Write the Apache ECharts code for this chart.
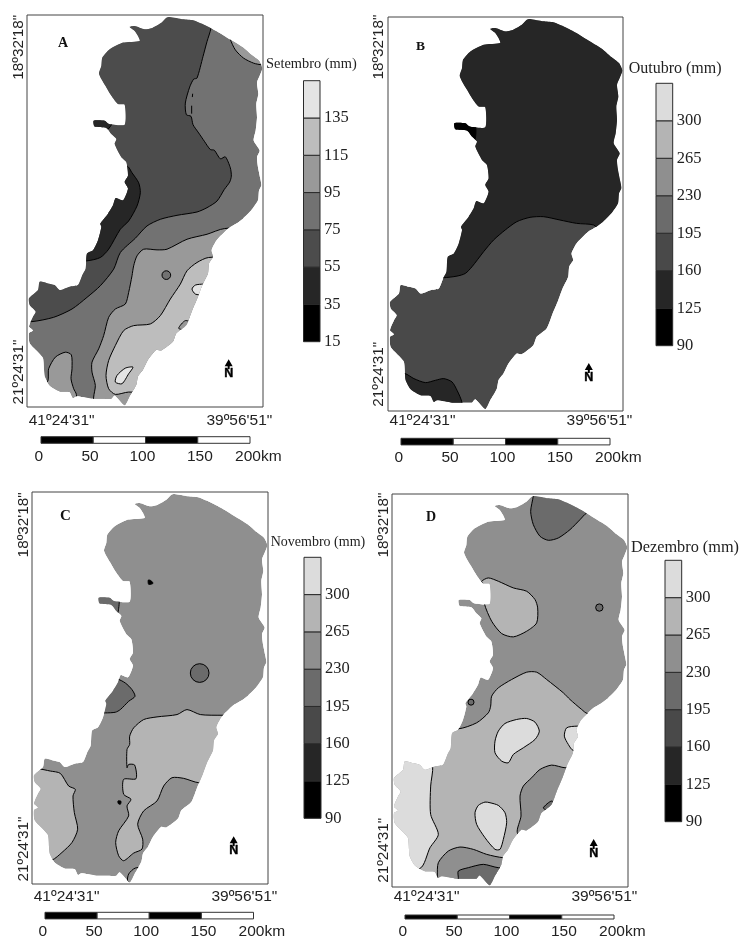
<!DOCTYPE html>
<html><head><meta charset="utf-8">
<style>html,body{margin:0;padding:0;background:#fff}#c{width:739px;height:940px}</style>
<script src="https://cdn.jsdelivr.net/npm/echarts@6/dist/echarts.min.js"></script>
</head><body><div id="c"></div>
<script>
// shade classes, darkest to lightest
const shadesA=['#000000','#262626','#4c4c4c','#727272','#999999','#bdbdbd','#e4e4e4'];
const shadesB=['#000000','#262626','#494949','#6b6b6b','#8f8f8f','#b4b4b4','#dcdcdc'];
const breaksA=[15,35,55,75,95,115,135,155];
const breaksB=[90,125,160,195,230,265,300,335];
const titles=['Setembro (mm)','Outubro (mm)','Novembro (mm)','Dezembro (mm)'];
const letters=['A','B','C','D'];
const lonLabels=['41º24\'31"','39º56\'51"'];
const latLabels=['18º32\'18"','21º24\'31"'];
const scaleEdges=[0,50,100,150,200];
const scaleTexts=['0','50','100','150','200km'];
const scaleTextAt=[-2,47,97,152,208];
const northAt=[605,1066];
const toFrame=(pts,x0,y0)=>pts.map(([x,y])=>[x-x0,y-y0]);

// state outline (map units, a third of a pixel)
const outline=toFrame([[480,58],[520,65],[550,68],[585,82],[620,100],[660,125],[700,150],[725,172],[748,190],[758,212],[750,235],[742,255],[746,290],[740,320],[742,360],[738,400],[732,430],[750,460],[742,480],[745,510],[752,545],[755,565],[748,580],[745,610],[725,640],[700,665],[680,680],[655,695],[620,730],[605,760],[610,780],[598,800],[595,830],[578,865],[565,900],[548,940],[530,985],[500,1010],[490,1035],[455,1062],[440,1060],[415,1090],[400,1120],[385,1140],[380,1165],[360,1200],[345,1227],[315,1197],[305,1207],[275,1207],[245,1207],[200,1200],[190,1205],[180,1187],[150,1185],[120,1167],[105,1140],[103,1120],[100,1085],[88,1070],[60,1040],[58,1010],[70,1002],[58,990],[70,960],[78,945],[60,925],[58,905],[85,880],[90,855],[115,860],[135,865],[150,880],[180,870],[205,865],[218,835],[228,815],[232,770],[250,760],[265,730],[275,690],[272,680],[295,650],[310,625],[318,603],[340,610],[355,575],[345,555],[355,535],[350,495],[335,480],[315,440],[320,425],[305,410],[290,392],[255,388],[252,370],[285,370],[298,380],[345,382],[345,322],[325,320],[305,295],[290,270],[275,245],[268,228],[275,205],[278,180],[300,155],[340,135],[390,130],[385,115],[375,100],[360,88],[375,85],[405,95],[425,92],[455,75],[470,60]],52,52);

// Panel A: September
const zonesA=[
 {c:2,p:[[640,20],[632,85],[620,125],[608,170],[590,235],[580,238],[568,262],[555,310],[558,345],[572,350],[578,375],[595,400],[612,425],[630,450],[642,452],[660,478],[675,472],[690,505],[693,530],[688,548],[672,570],[650,605],[620,625],[590,638],[530,648],[480,660],[440,680],[405,717],[360,760],[340,810],[300,860],[260,895],[215,930],[160,955],[95,968],[20,968],[20,20]]},
 {c:4,p:[[690,100],[690,118],[705,150],[730,175],[760,190],[785,195],[830,195],[830,100]]},
 {c:1,p:[[200,340],[335,365],[318,392],[200,400]]},
 {c:1,p:[[380,500],[395,520],[415,550],[420,580],[410,620],[385,665],[360,690],[325,750],[300,775],[260,785],[200,785],[200,500]]},
 {c:4,p:[[672,688],[620,705],[560,720],[500,750],[470,752],[430,750],[410,770],[400,800],[395,830],[385,880],[375,915],[345,930],[325,955],[310,1010],[295,1050],[275,1090],[275,1120],[285,1160],[280,1195],[280,1260],[830,1260],[830,688]]},
 {c:5,p:[[625,775],[590,790],[560,815],[540,855],[510,900],[480,950],[450,975],[400,980],[370,995],[345,1040],[325,1085],[317,1130],[325,1170],[345,1187],[385,1180],[830,1180],[830,775]]},
 {c:4,p:[[535,988],[555,965],[580,975],[555,992]]},
 {c:6,p:[[610,855],[585,858],[575,870],[585,885],[610,888],[650,888],[650,855]]},
 {c:6,p:[[398,1105],[375,1108],[350,1130],[345,1150],[365,1155],[385,1125]]},
 {c:4,p:[[140,1150],[145,1110],[165,1075],[195,1060],[213,1068],[215,1110],[212,1140],[220,1170],[228,1187],[228,1260],[60,1260],[60,1160]]}
];
const spotsA=[{c:3,x:498,y:828,r:13}];
const strokesA=[[[577,282],[576,292]],[[574,318],[574,342]]];

// Panel B: October
const zonesB=[
 {c:1,p:[[695,695],[672,675],[620,670],[570,660],[520,650],[480,652],[440,665],[405,690],[370,720],[340,755],[305,800],[285,820],[260,828],[218,833],[150,833],[150,20],[830,20],[830,695]]},
 {c:0,p:[[240,360],[290,365],[315,375],[312,424],[280,405],[240,400]]},
 {c:1,p:[[103,1120],[130,1135],[165,1147],[195,1140],[220,1135],[245,1145],[260,1170],[275,1207],[275,1260],[40,1260],[40,1120]]}
];
const spotsB=[];
const strokesB=[];

// Panel C: November
const zonesC=[
 {c:3,p:[[260,320],[357,320],[357,362],[355,385],[350,402],[260,410]]},
 {c:0,p:[[444,300],[452,302],[458,310],[445,313]]},
 {c:3,p:[[350,598],[375,610],[395,630],[404,650],[385,665],[360,690],[345,698],[315,700],[250,700],[250,598]]},
 {c:5,p:[[665,707],[600,705],[560,690],[530,705],[470,712],[430,720],[400,745],[388,770],[388,795],[380,810],[380,865],[385,855],[403,857],[407,898],[370,900],[370,945],[392,960],[380,980],[385,1010],[355,1055],[346,1090],[355,1130],[370,1145],[400,1122],[425,1110],[427,1080],[412,1035],[430,995],[470,965],[490,920],[515,895],[550,897],[595,910],[830,910],[830,707]]},
 {c:5,p:[[112,868],[150,875],[180,882],[205,920],[225,930],[218,950],[222,1000],[232,1050],[215,1090],[185,1120],[155,1143],[40,1170],[40,868]]},
 {c:4,p:[[383,1208],[385,1185],[405,1167],[450,1167],[450,1240]]},
 {c:0,p:[[353,965],[362,966],[360,975],[354,973]]}
];
const spotsC=[{c:3,x:598,y:580,r:28}];
const strokesC=[];

// Panel D: December
const zonesD=[
 {c:3,p:[[490,20],[490,48],[482,95],[490,135],[510,170],[535,182],[565,175],[600,150],[630,120],[650,100],[700,80],[700,20]]},
 {c:5,p:[[335,305],[355,295],[385,305],[430,325],[470,335],[495,360],[503,385],[500,430],[470,455],[430,472],[395,462],[365,425],[343,372],[345,345],[340,315]]},
 {c:5,p:[[265,748],[320,730],[355,700],[362,680],[365,650],[385,625],[425,600],[470,578],[500,578],[530,600],[580,640],[600,660],[635,690],[652,702],[830,720],[830,1260],[40,1260],[40,748]]},
 {c:6,p:[[188,860],[170,830],[20,830],[20,1167],[150,1167],[180,1105],[205,1065],[182,1005],[182,920]]},
 {c:4,p:[[585,865],[545,857],[510,870],[485,895],[460,920],[450,950],[453,1010],[442,1060],[480,1100],[720,1000],[720,865]]},
 {c:3,p:[[520,985],[545,965],[565,985],[530,992]]},
 {c:6,p:[[622,740],[590,745],[583,770],[595,795],[610,813],[700,813],[700,740]]},
 {c:6,p:[[470,717],[440,720],[405,732],[385,755],[375,785],[375,820],[395,845],[415,850],[430,825],[460,805],[495,780],[508,755],[495,728]]},
 {c:6,p:[[360,970],[345,968],[325,978],[315,1000],[320,1035],[345,1075],[375,1110],[390,1110],[400,1080],[410,1030],[405,1000],[385,978]]},
 {c:4,p:[[202,1190],[205,1150],[235,1115],[270,1103],[310,1110],[350,1125],[400,1135],[500,1135],[500,1260],[202,1260]]},
 {c:3,p:[[385,1165],[340,1155],[295,1165],[265,1175],[265,1195],[265,1260],[470,1260],[470,1165]]}
];
const spotsD=[{c:3,x:688,y:384,r:11},{c:3,x:303,y:668,r:9}];
const strokesD=[];

const panels=[
 {zones:zonesA,spots:spotsA,strokes:strokesA,origin:[80,45],base:3,shades:shadesA,breaks:breaksA,
  frame:[27,15,236,392],lon:[104,637],lat:[97,1075],latM:1,lonM:6,legend:[303.5,80.7,16.5,261],titleAt:[266,57],titleSize:14.4,letterAt:[58,36],letterSize:14,scale:[41,436.7,209,6.6]},
 {zones:zonesB,spots:spotsB,strokes:strokesB,origin:[52,52],base:2,shades:shadesB,breaks:breaksB,
  frame:[388,17,235,394],lon:[104,637],lat:[90,1070],latM:2,lonM:2,legend:[656,83.3,16.7,262.4],titleAt:[628.7,61],titleSize:16,letterAt:[416,40],letterSize:13.5,scale:[401,438.3,209,6.6]},
 {zones:zonesC,spots:spotsC,strokes:strokesC,origin:[95,35],base:4,shades:shadesB,breaks:breaksB,
  frame:[32,492,236,392],lon:[104,637],lat:[99,1075],latM:1,lonM:5,legend:[304,557.3,17,261],titleAt:[270.7,535],titleSize:14,letterAt:[60,509],letterSize:15,scale:[45,912.3,208.5,6.6]},
 {zones:zonesD,spots:spotsD,strokes:strokesD,origin:[66,43],base:4,shades:shadesB,breaks:breaksB,
  frame:[392,494,236,393],lon:[104,637],lat:[93,1070],latM:1,lonM:2,legend:[665,560.3,16.7,261.4],titleAt:[631,540],titleSize:16.3,letterAt:[426,510],letterSize:14,scale:[405,915,209,6.6]}
];

const SERIF='"Liberation Serif",serif', SANS='"Liberation Sans",sans-serif';
const grid=[],xAxis=[],yAxis=[],series=[],title=[];
const hidden={axisLine:{show:false},axisTick:{show:false},splitLine:{show:false}};

panels.forEach((pn,i)=>{
  const [ox,oy]=pn.origin;
  const zones=pn.zones.map(z=>({c:z.c,p:toFrame(z.p,ox,oy)}));
  const spots=pn.spots.map(s=>({c:s.c,r:s.r,at:[s.x-ox,s.y-oy]}));
  const strokes=pn.strokes.map(l=>toFrame(l,ox,oy));
  // map frame
  let g=grid.length;
  grid.push({left:pn.frame[0],top:pn.frame[1],width:pn.frame[2],height:pn.frame[3],show:true,borderColor:'#444',borderWidth:1,backgroundColor:'#fff',containLabel:false});
  xAxis.push({gridIndex:g,type:'value',min:0,max:708,...hidden,
    axisLabel:{show:true,customValues:pn.lon,margin:pn.lonM,hideOverlap:false,color:'#222',fontFamily:SANS,fontSize:15.5,
      formatter:v=>lonLabels[pn.lon.indexOf(v)]}});
  yAxis.push({gridIndex:g,type:'value',inverse:true,min:0,max:1180,...hidden,
    axisLabel:{show:true,customValues:pn.lat,rotate:90,margin:pn.latM,hideOverlap:false,color:'#222',fontFamily:SANS,fontSize:15.3,
      formatter:v=>latLabels[pn.lat.indexOf(v)]}});
  series.push({type:'custom',xAxisIndex:g,yAxisIndex:g,silent:true,animation:false,data:[[0,0]],
    renderItem:(params,api)=>{
      const P=pts=>pts.map(p=>api.coord(p));
      const ring=P(outline);
      const unit=api.size([1,1])[0];
      const kids=[{type:'polygon',shape:{points:ring,smooth:0.2},style:{fill:pn.shades[pn.base],stroke:null}}];
      zones.forEach(z=>kids.push({type:'polygon',shape:{points:P(z.p),smooth:0.25},style:{fill:pn.shades[z.c],stroke:'#000',lineWidth:1}}));
      strokes.forEach(l=>kids.push({type:'polyline',shape:{points:P(l)},style:{fill:null,stroke:'#000',lineWidth:1}}));
      spots.forEach(s=>{const c=api.coord(s.at);kids.push({type:'circle',shape:{cx:c[0],cy:c[1],r:s.r*unit},style:{fill:pn.shades[s.c],stroke:'#000',lineWidth:1}});});
      const n=api.coord(northAt);
      return {type:'group',children:[
        {type:'group',clipPath:{type:'polygon',shape:{points:ring,smooth:0.2}},children:kids},
        {type:'polygon',shape:{points:[[n[0],n[1]-10],[n[0]-4,n[1]-3],[n[0]-1,n[1]-3],[n[0]-1,n[1]],[n[0]+1,n[1]],[n[0]+1,n[1]-3],[n[0]+4,n[1]-3]]},style:{fill:'#000'}},
        {type:'text',x:n[0],y:n[1]+4.5,style:{text:'N',fill:'#000',font:'bold 12.5px '+SANS,textAlign:'center',textVerticalAlign:'middle',stroke:'#000',lineWidth:0.4}}
      ]};
    }});
  // legend colour bar
  g=grid.length;
  const L=pn.legend, brk=pn.breaks, shades=pn.shades;
  grid.push({left:L[0],top:L[1],width:L[2],height:L[3]});
  xAxis.push({gridIndex:g,type:'value',min:0,max:1,...hidden,axisLabel:{show:false}});
  yAxis.push({gridIndex:g,type:'value',position:'right',min:brk[0],max:brk[brk.length-1],...hidden,
    axisLabel:{show:true,customValues:brk.slice(0,-1),margin:4,hideOverlap:false,color:'#222',fontFamily:SERIF,fontSize:16.5}});
  series.push({type:'custom',xAxisIndex:g,yAxisIndex:g,silent:true,animation:false,
    data:shades.map((s,k)=>[0,brk[k],1,brk[k+1],k]),
    encode:{x:[0,2],y:[1,3]},
    renderItem:(params,api)=>{
      const a=api.coord([api.value(0),api.value(3)]), b=api.coord([api.value(2),api.value(1)]);
      return {type:'rect',shape:{x:a[0],y:a[1],width:b[0]-a[0],height:b[1]-a[1]},
        style:{fill:shades[api.value(4)],stroke:'#2a2a2a',lineWidth:1}};
    }});
  // scale bar
  g=grid.length;
  const S=pn.scale, k=S[2]/200;
  grid.push({left:S[0]-10*k,top:S[1],width:230*k,height:S[3]});
  xAxis.push({gridIndex:g,type:'value',min:-10,max:220,...hidden,
    axisLabel:{show:true,customValues:scaleTextAt,margin:5,hideOverlap:false,color:'#222',fontFamily:SANS,fontSize:15.5,
      formatter:v=>scaleTexts[scaleTextAt.indexOf(v)]}});
  yAxis.push({gridIndex:g,type:'value',min:0,max:1,...hidden,axisLabel:{show:false}});
  series.push({type:'custom',xAxisIndex:g,yAxisIndex:g,silent:true,animation:false,
    data:scaleEdges.slice(0,-1).map((e,j)=>[e,0,scaleEdges[j+1],1,j%2]),
    encode:{x:[0,2],y:[1,3]},
    renderItem:(params,api)=>{
      const a=api.coord([api.value(0),api.value(3)]), b=api.coord([api.value(2),api.value(1)]);
      return {type:'rect',shape:{x:a[0],y:a[1],width:b[0]-a[0],height:b[1]-a[1]},
        style:{fill:api.value(4)?'#fff':'#000',stroke:'#333',lineWidth:1}};
    }});
  // legend heading and panel letter
  title.push({text:titles[i],left:pn.titleAt[0],top:pn.titleAt[1],padding:0,textStyle:{fontFamily:SERIF,fontWeight:'normal',fontSize:pn.titleSize,color:'#222'}});
  title.push({text:letters[i],left:pn.letterAt[0],top:pn.letterAt[1],padding:0,textStyle:{fontFamily:SERIF,fontWeight:'bold',fontSize:pn.letterSize,color:'#111'}});
});

const chart=echarts.init(document.getElementById('c'),null,{renderer:'canvas'});
chart.setOption({animation:false,backgroundColor:'#fff',title,grid,xAxis,yAxis,series});
</script></body></html>
